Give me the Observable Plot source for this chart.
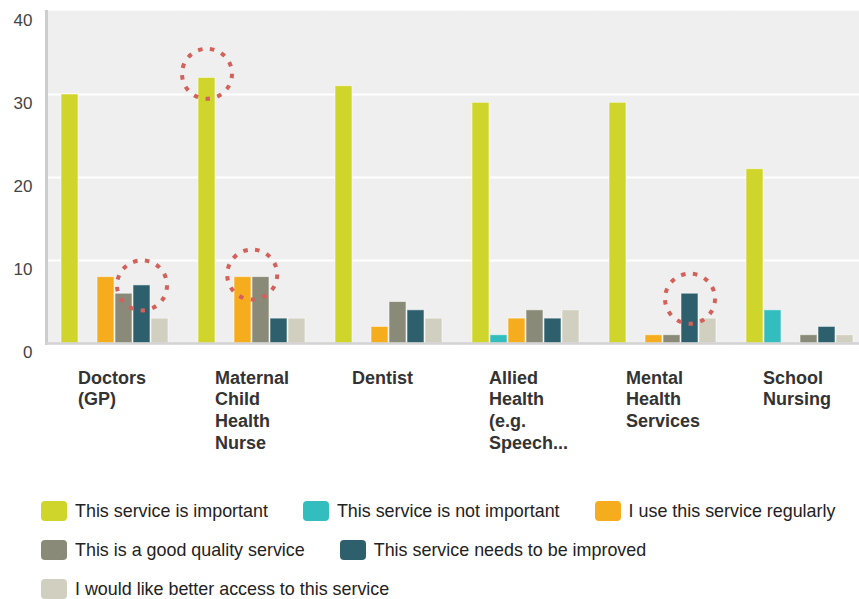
<!DOCTYPE html>
<html>
<head>
<meta charset="utf-8">
<script src="https://cdn.jsdelivr.net/npm/d3@7"></script>
<script src="https://cdn.jsdelivr.net/npm/@observablehq/plot@0.6"></script>
<style>
  html, body { margin: 0; padding: 0; background: #fff; overflow: hidden; }
  #chart svg { display: block; }
  .legend { display: flex; flex-wrap: wrap; column-gap: 35px; row-gap: 19px; padding: 21px 0 0 41px; width: 812px;
    font-family: "Liberation Sans", Arial, sans-serif; font-size: 17.9px; color: #222; }
  .legend .item { display: flex; align-items: center; height: 20px; white-space: nowrap; }
  .legend .sw { width: 26px; height: 20px; border-radius: 4px; margin-right: 8px; }
</style>
</head>
<body>
<div id="chart"></div>
<div class="legend" id="legend"></div>
<script>
const services = ["Doctors (GP)", "Maternal Child Health Nurse", "Dentist", "Allied Health (e.g. Speech...", "Mental Health Services", "School Nursing"];
const serviceLabels = ["Doctors\n(GP)", "Maternal\nChild\nHealth\nNurse", "Dentist", "Allied\nHealth\n(e.g.\nSpeech...", "Mental\nHealth\nServices", "School\nNursing"];
const seriesNames = ["This service is important", "This service is not important", "I use this service regularly", "This is a good quality service", "This service needs to be improved", "I would like better access to this service"];
const seriesColors = ["#cfd52a", "#33bdbe", "#f5ad1e", "#8a8a78", "#2e5f6c", "#d0cfc0"];
const important      = [30, 32, 31, 29, 29, 21];
const notImportant   = [0, 0, 0, 1, 0, 4];
const useRegularly   = [8, 8, 2, 3, 1, 0];
const goodQuality    = [6, 8, 5, 4, 1, 1];
const needsImproving = [7, 3, 4, 3, 6, 2];
const betterAccess   = [3, 3, 3, 4, 3, 1];
const yTicks = [0, 10, 20, 30, 40];
const gridValues = [10, 20, 30];
// highlighted (circled) spots: service, series, value
const highlightsOnBar = [
  {service: services[0], series: seriesNames[4], value: 7},
  {service: services[1], series: seriesNames[0], value: 32.5},
  {service: services[4], series: seriesNames[4], value: 5.4}
];
const highlightsBetweenBars = [
  {service: services[1], series: seriesNames[2], value: 8.3}
];

const seriesValues = [important, notImportant, useRegularly, goodQuality, needsImproving, betterAccess];
const rows = [];
services.forEach((s, i) => seriesValues.forEach((vals, j) => {
  if (vals[i] > 0) rows.push({service: s, series: seriesNames[j], value: vals[i]});
}));
const labelRows = services.map((s, i) => ({service: s, label: serviceLabels[i]}));
const first = services[0];

const circleStyle = {r: 25, stroke: "#d4605a", strokeWidth: 4, strokeDasharray: "4.5,7.5", fill: "none"};

const chart = Plot.plot({
  width: 859,
  height: 480,
  marginTop: 11,
  marginLeft: 44,
  marginRight: 0,
  marginBottom: 137,
  style: {fontFamily: "'Liberation Sans', Arial, sans-serif", background: "transparent", overflow: "hidden"},
  fx: {domain: services, range: [44, 870], paddingInner: 0, paddingOuter: 0, axis: null},
  x: {domain: seriesNames, paddingInner: 0.08, paddingOuter: 0.8, axis: null},
  y: {domain: [0, 40], axis: null},
  color: {domain: seriesNames, range: seriesColors},
  marks: [
    Plot.frame({fill: "#efefef", stroke: "#efefef", strokeWidth: 1.5}),
    Plot.ruleY(gridValues, {stroke: "white", strokeWidth: 2}),
    Plot.frame({anchor: "left", facetAnchor: "left", stroke: "#cdcdcd", strokeWidth: 3}),
    Plot.barY(rows, {fx: "service", x: "series", y: "value", fill: "series", stroke: "white", strokeOpacity: 0.55, strokeWidth: 1}),
    Plot.ruleY([0], {stroke: "#d3d3d3", strokeWidth: 2.5}),
    Plot.dot(highlightsOnBar, {fx: "service", x: "series", y: "value", ...circleStyle}),
    Plot.dot(highlightsBetweenBars, {fx: "service", x: "series", y: "value", dx: 9.2, ...circleStyle}),
    Plot.text(yTicks, {fx: () => first, y: d => d, text: d => String(d), frameAnchor: "left", textAnchor: "end", lineAnchor: "top", dx: -14, dy: 2, fontSize: 17, fill: "#444"}),
    Plot.text(labelRows, {fx: "service", text: "label", frameAnchor: "bottom", textAnchor: "start", lineAnchor: "top", dx: -37, dy: 25, lineHeight: 1.2, fontSize: 18, fontWeight: "bold", fill: "#333"})
  ]
});
document.getElementById("chart").appendChild(chart);

const legend = document.getElementById("legend");
seriesNames.forEach((name, i) => {
  const item = document.createElement("div");
  item.className = "item";
  const sw = document.createElement("span");
  sw.className = "sw";
  sw.style.background = seriesColors[i];
  const t = document.createElement("span");
  t.textContent = name;
  item.appendChild(sw); item.appendChild(t);
  legend.appendChild(item);
});
</script>
</body>
</html>
